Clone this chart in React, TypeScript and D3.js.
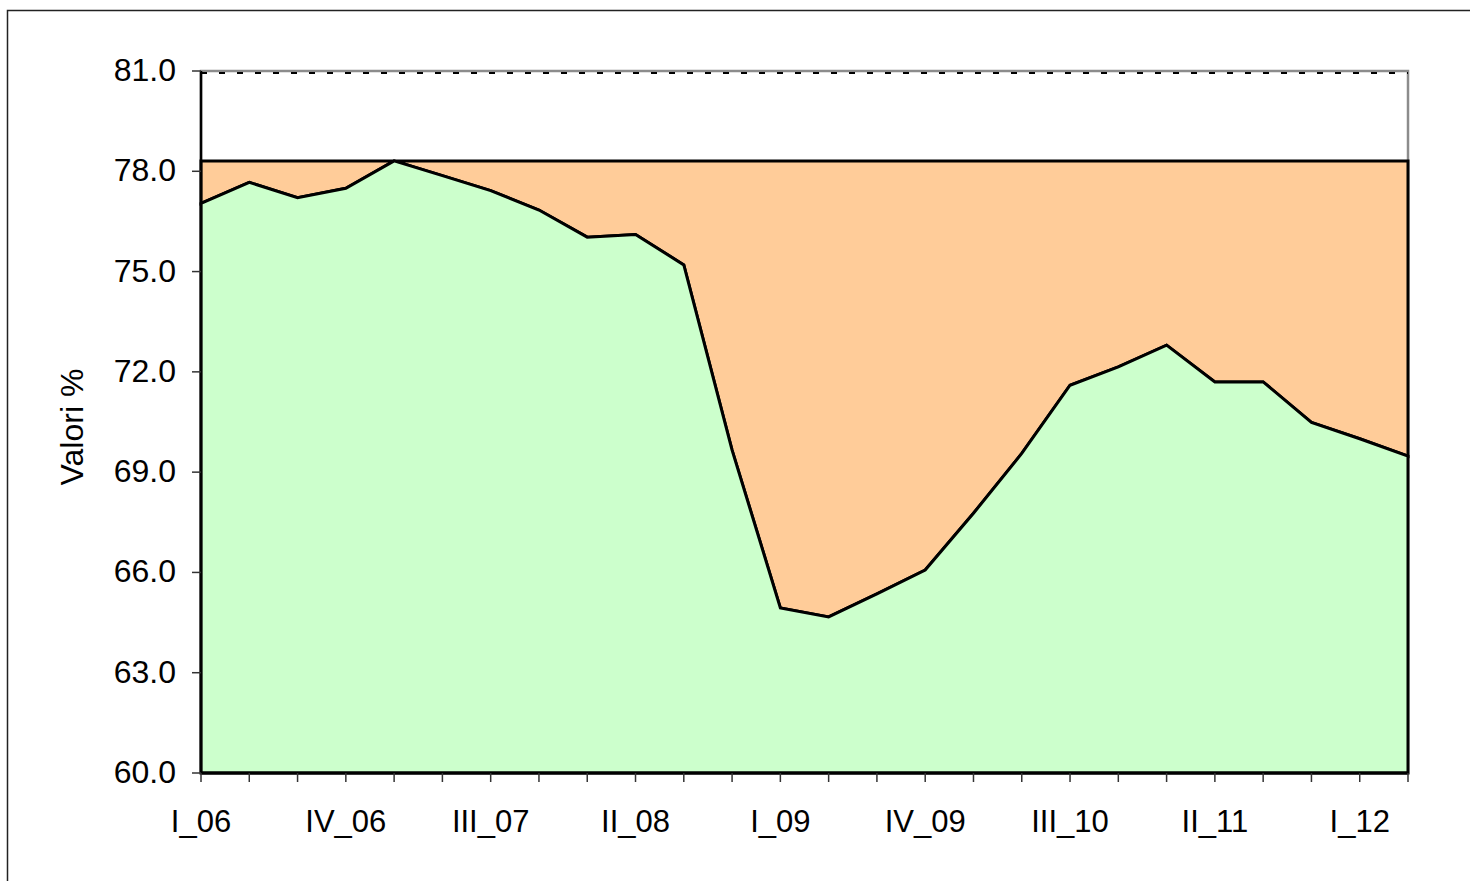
import React from "react";
import * as d3 from "d3";

// trimestri dal I_06 al II_12
const trimestri = [
  "I_06", "II_06", "III_06", "IV_06",
  "I_07", "II_07", "III_07", "IV_07",
  "I_08", "II_08", "III_08", "IV_08",
  "I_09", "II_09", "III_09", "IV_09",
  "I_10", "II_10", "III_10", "IV_10",
  "I_11", "II_11", "III_11", "IV_11",
  "I_12", "II_12",
];

// valori % (area verde)
const valori = [
  77.04, 77.67, 77.21, 77.49,
  78.31, 77.87, 77.42, 76.84,
  76.03, 76.11, 75.2, 69.66,
  64.94, 64.67, 65.36, 66.07,
  67.77, 69.56, 71.6, 72.15,
  72.8, 71.7, 71.7, 70.49,
  70.0, 69.48,
];

const etichetteX = ["I_06", "IV_06", "III_07", "II_08", "I_09", "IV_09", "III_10", "II_11", "I_12"];
const tickY = [60, 63, 66, 69, 72, 75, 78, 81];

const width = 1470;
const height = 881;
const left = 201;
const right = 1408;
const top = 71;
const bottom = 773;

export default function App() {
  const x = d3.scalePoint<string>().domain(trimestri).range([left, right]);
  const y = d3.scaleLinear().domain([60, 81]).range([bottom, top]);
  const massimo = d3.max(valori) as number;

  const dati = trimestri.map((t, i) => ({ t, v: valori[i] }));

  const areaGap = d3
    .area<{ t: string; v: number }>()
    .x((d) => x(d.t) as number)
    .y0((d) => y(d.v))
    .y1(() => y(massimo));

  const areaVerde = d3
    .area<{ t: string; v: number }>()
    .x((d) => x(d.t) as number)
    .y0(() => y(60))
    .y1((d) => y(d.v));

  const font = "'Liberation Sans', Arial, sans-serif";

  return (
    <svg
      width={width}
      height={height}
      style={{ position: "absolute", left: 0, top: 0, background: "#fff" }}
    >
      <rect x={7.5} y={10.5} width={width} height={height} fill="none" stroke="#222" strokeWidth={1.5} />

      {/* bordo area del grafico */}
      <rect x={left} y={top} width={right - left} height={bottom - top} fill="#fff" stroke="#8c8c8c" strokeWidth={2.5} />

      {/* griglia tratteggiata (visibile solo sopra le aree) */}
      {tickY
        .filter((v) => v > 60)
        .map((v) => (
          <line
            key={"g" + v}
            x1={left}
            x2={right}
            y1={y(v) + 2}
            y2={y(v) + 2}
            stroke="#000"
            strokeWidth={2}
            strokeDasharray="6,12"
          />
        ))}

      <path d={areaGap(dati) as string} fill="#FFCC99" stroke="#000" strokeWidth={3} strokeLinejoin="miter" />
      <path d={areaVerde(dati) as string} fill="#CCFFCC" stroke="#000" strokeWidth={3} strokeLinejoin="miter" />

      {/* asse y */}
      <line x1={left} x2={left} y1={top} y2={bottom} stroke="#000" strokeWidth={2.5} />
      {tickY.map((v) => (
        <g key={"ty" + v}>
          <line x1={left - 9} x2={left} y1={y(v)} y2={y(v)} stroke="#333" strokeWidth={1.5} />
          <text x={176} y={y(v) + 10} textAnchor="end" fontFamily={font} fontSize={32} fill="#000">
            {d3.format(".1f")(v)}
          </text>
        </g>
      ))}

      {/* asse x */}
      <line x1={left} x2={right} y1={bottom} y2={bottom} stroke="#000" strokeWidth={3} />
      {trimestri.map((t) => (
        <line key={"tx" + t} x1={x(t)} x2={x(t)} y1={bottom} y2={bottom + 9} stroke="#333" strokeWidth={1.5} />
      ))}
      {etichetteX.map((t) => (
        <text key={"lx" + t} x={x(t)} y={832} textAnchor="middle" fontFamily={font} fontSize={31} fill="#000">
          {t}
        </text>
      ))}

      <text
        transform="translate(83,427) rotate(-90)"
        textAnchor="middle"
        fontFamily={font}
        fontSize={32}
        fill="#000"
      >
        Valori %
      </text>
    </svg>
  );
}
